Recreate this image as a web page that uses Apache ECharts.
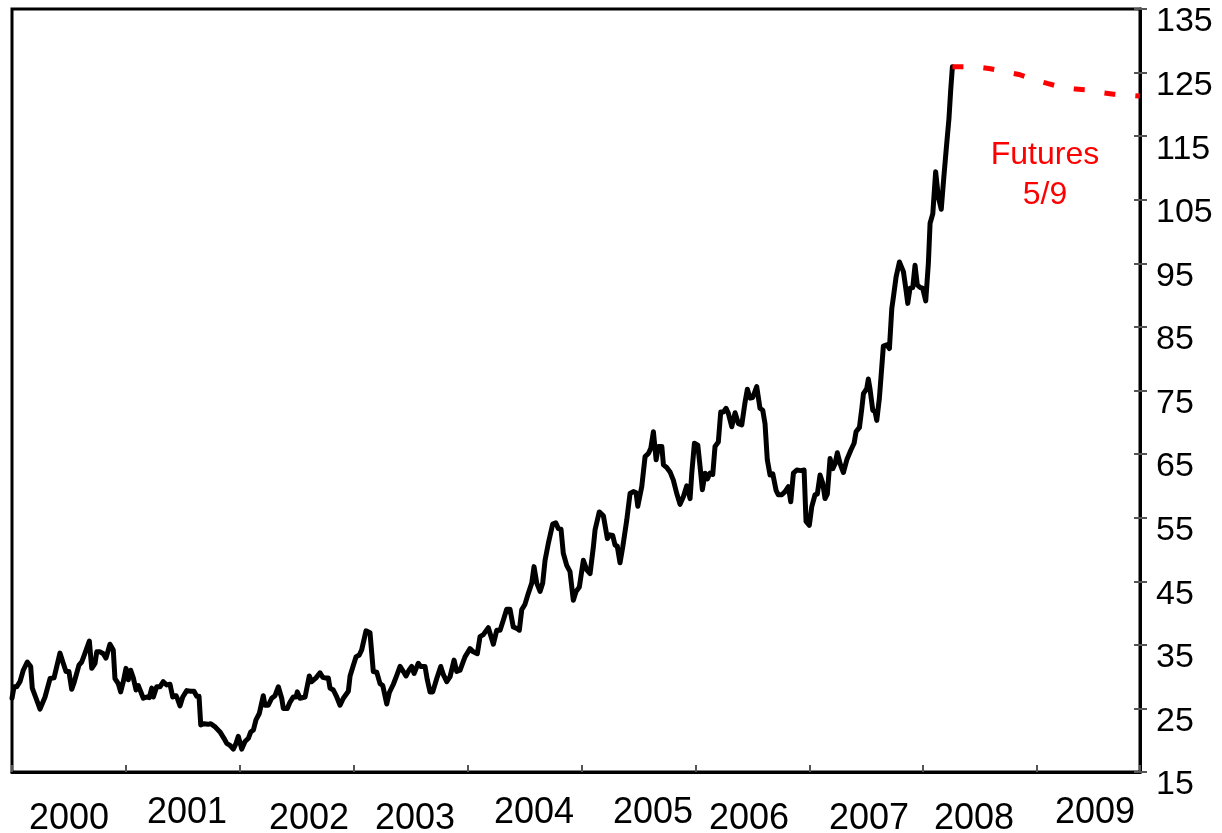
<!DOCTYPE html>
<html>
<head>
<meta charset="utf-8">
<title>Oil price and futures</title>
<script src="https://cdn.jsdelivr.net/npm/echarts@6/dist/echarts.min.js"></script>
<style>
  html, body { margin: 0; padding: 0; background: #fff; }
  #chart { width: 1222px; height: 833px; }
</style>
</head>
<body>
<div id="chart"></div>
<script>
// weekly spot price, time in years since start of 2000
const spotTime = [
  0.000, 0.018, 0.041, 0.070, 0.099, 0.134, 0.164, 0.178, 0.211, 0.246, 0.290, 0.334, 0.369, 0.421, 0.450, 0.474, 0.500, 0.524,
  0.544, 0.588, 0.612, 0.641, 0.679, 0.700, 0.729, 0.744, 0.773, 0.802, 0.825, 0.860, 0.889, 0.904, 0.933, 0.954, 0.977,
  1.001, 1.021, 1.042, 1.065, 1.089, 1.109, 1.124, 1.153, 1.183, 1.205, 1.227, 1.241, 1.270, 1.299, 1.328, 1.358, 1.387, 1.411,
  1.440, 1.451, 1.475, 1.499, 1.534, 1.569, 1.598, 1.622, 1.642, 1.657, 1.686, 1.723, 1.745, 1.782, 1.826, 1.861, 1.885, 1.914,
  1.943, 1.967, 1.987,
  2.017, 2.046, 2.075, 2.096, 2.119, 2.142, 2.171, 2.206, 2.221, 2.250, 2.280, 2.309, 2.338, 2.368, 2.382, 2.417, 2.441, 2.470,
  2.494, 2.505, 2.529, 2.573, 2.610, 2.631, 2.669, 2.704, 2.728, 2.748, 2.777, 2.792, 2.821, 2.851, 2.880, 2.909, 2.953, 2.968, 2.997,
  3.020, 3.049, 3.070, 3.108, 3.143, 3.158, 3.172, 3.202, 3.231, 3.255, 3.266, 3.290, 3.313, 3.348, 3.378, 3.407, 3.436, 3.459,
  3.488, 3.509, 3.530, 3.553, 3.567, 3.588, 3.626, 3.646, 3.670, 3.694, 3.729, 3.764, 3.787, 3.817, 3.846, 3.881, 3.904, 3.933, 3.977,
  4.021, 4.050, 4.085, 4.109, 4.138, 4.182, 4.226, 4.256, 4.285, 4.314, 4.343, 4.372, 4.401, 4.431, 4.454, 4.475, 4.504, 4.533,
  4.563, 4.583, 4.607, 4.636, 4.659, 4.680, 4.709, 4.747, 4.774, 4.796, 4.820, 4.840, 4.870, 4.899, 4.928, 4.952, 4.981,
  5.016, 5.046, 5.075, 5.104, 5.119, 5.156, 5.192, 5.206, 5.227, 5.250, 5.274, 5.294, 5.314, 5.338, 5.362, 5.397, 5.426, 5.455,
  5.479, 5.494, 5.529, 5.558, 5.587, 5.608, 5.631, 5.655, 5.675, 5.705, 5.719, 5.748, 5.777, 5.806, 5.836, 5.865, 5.894, 5.924,
  5.953, 5.968,
  5.991, 6.021, 6.041, 6.061, 6.085, 6.105, 6.128, 6.152, 6.172, 6.201, 6.222, 6.245, 6.269, 6.289, 6.319, 6.348, 6.377, 6.407,
  6.436, 6.456, 6.480, 6.503, 6.538, 6.567, 6.591, 6.611, 6.631, 6.655, 6.679, 6.708, 6.728, 6.758, 6.787, 6.816, 6.837, 6.860,
  6.890, 6.925, 6.954, 6.971,
  7.000, 7.021, 7.050, 7.070, 7.094, 7.118, 7.138, 7.158, 7.182, 7.206, 7.226, 7.246, 7.270, 7.299, 7.329, 7.364, 7.393, 7.410,
  7.440, 7.461, 7.475, 7.504, 7.518, 7.533, 7.557, 7.577, 7.592, 7.615, 7.636, 7.650, 7.680, 7.703, 7.724, 7.738, 7.762, 7.791,
  7.826, 7.849, 7.864, 7.884, 7.908, 7.928, 7.948, 7.972, 7.995,
  8.022, 8.045, 8.060, 8.084, 8.109, 8.132, 8.158, 8.181, 8.205, 8.226, 8.241, 8.256
]

const spotPrice = [
  26.6, 28.4, 28.4, 29.2, 31.0, 32.3, 31.6, 28.2, 26.6, 24.9, 26.8, 29.7, 29.8, 33.7, 32.1, 30.8, 30.8, 28.0,
  29.0, 31.8, 32.3, 33.7, 35.6, 31.3, 32.1, 33.9, 33.9, 33.6, 32.9, 35.1, 34.2, 29.7, 28.9, 27.6, 29.2,
  31.3, 29.5, 31.0, 29.8, 27.9, 28.6, 27.9, 26.6, 26.8, 26.7, 28.2, 26.8, 28.4, 28.4, 29.2, 28.7, 28.8, 26.8,
  27.0, 26.6, 25.4, 26.8, 27.8, 27.7, 27.7, 26.9, 26.9, 22.4, 22.6, 22.5, 22.6, 22.1, 21.3, 20.3, 19.5, 19.2,
  18.6, 19.5, 20.6,
  18.6, 19.8, 20.3, 21.3, 21.6, 23.2, 24.2, 27.0, 25.5, 25.5, 26.6, 27.0, 28.4, 26.6, 25.0, 25.0, 26.0, 26.8,
  26.8, 27.6, 26.6, 26.8, 30.1, 29.2, 29.8, 30.6, 29.9, 29.8, 29.8, 28.2, 27.9, 26.8, 25.5, 26.6, 27.7, 30.1, 31.8,
  33.1, 33.4, 34.2, 37.2, 36.9, 36.8, 30.8, 30.7, 28.9, 28.6, 28.7, 25.7, 27.5, 28.8, 30.2, 31.6, 30.8, 30.1,
  31.1, 31.6, 30.5, 31.5, 32.1, 31.6, 31.6, 29.5, 27.6, 27.6, 29.7, 31.6, 30.3, 29.2, 30.0, 32.6, 30.8, 31.0, 33.1,
  34.4, 33.9, 33.6, 36.3, 36.6, 37.7, 35.1, 37.3, 37.3, 38.9, 40.6, 40.6, 37.8, 37.6, 37.3, 40.5, 41.4, 43.1,
  44.7, 47.3, 44.7, 43.4, 44.7, 48.3, 51.0, 54.0, 54.2, 53.3, 53.2, 49.4, 47.5, 46.5, 42.0, 43.4, 44.1,
  48.3, 46.8, 46.2, 50.4, 53.1, 55.9, 55.3, 55.2, 51.7, 52.3, 52.2, 50.7, 50.5, 47.9, 50.4, 54.6, 58.8, 59.1,
  58.9, 56.8, 59.9, 64.6, 65.1, 65.9, 68.5, 64.1, 66.2, 66.2, 63.3, 62.9, 62.2, 60.9, 58.8, 57.1, 58.3, 60.0,
  58.0, 62.0,
  66.7, 66.4, 63.0, 59.4, 62.0, 61.1, 62.0, 61.8, 66.2, 66.9, 71.6, 71.6, 72.2, 71.4, 69.3, 71.5, 69.8, 69.6,
  73.2, 75.2, 73.8, 73.9, 75.6, 72.2, 71.9, 69.8, 64.1, 61.7, 61.9, 59.3, 58.6, 58.6, 59.1, 59.9, 57.5, 62.0,
  62.5, 62.4, 62.5, 54.4,
  53.8, 56.7, 58.6, 58.7, 61.7, 60.4, 58.0, 58.7, 64.3, 62.7, 63.5, 65.2, 63.5, 62.1, 64.1, 65.6, 66.7, 68.5,
  69.2, 72.2, 74.5, 75.3, 76.8, 75.2, 71.9, 71.7, 70.3, 73.8, 78.7, 82.0, 82.2, 81.6, 87.9, 89.7, 92.9, 95.2,
  93.7, 90.8, 88.7, 91.1, 91.2, 94.7, 91.6, 91.2, 91.1,
  89.1, 95.0, 101.3, 102.8, 109.4, 105.5, 103.5, 108.6, 113.6, 117.8, 122.2, 125.9
]

// futures curve as of 5/9, monthly contracts
const futuresTime = [
  8.256, 8.339, 8.423, 8.506, 8.589, 8.673, 8.756, 8.839, 8.923, 9.006, 9.089,
  9.173, 9.256, 9.339, 9.423, 9.506, 9.589, 9.673, 9.756, 9.839, 9.903
]
const futuresPrice = [
  125.9, 125.9, 125.9, 125.8, 125.6, 125.3, 125.0, 124.7, 124.2, 123.7, 123.3,
  122.9, 122.6, 122.4, 122.3, 122.0, 121.8, 121.6, 121.5, 121.4, 121.3
]

const yearLabels = ['2000', '2001', '2002', '2003', '2004', '2005', '2006', '2007', '2008', '2009']
const startYear = 2000
const endYear = 2009.903

const FONT = "'Liberation Sans', Arial, sans-serif"

const chart = echarts.init(document.getElementById('chart'))

// year labels sit below the axis, a few of them slightly raised (as in the source)
const labelX = [69, 187, 309, 415, 534, 653, 749, 869, 974, 1095]
const labelRaised = [false, true, false, false, true, true, false, false, false, true]

const yearTexts = yearLabels.map((y, i) => ({
  type: 'text',
  x: labelX[i],
  y: labelRaised[i] ? 813 : 819,
  style: {
    text: y,
    font: '36px ' + FONT,
    fill: '#000',
    align: 'center',
    verticalAlign: 'middle'
  }
}))

const option = {
  animation: false,
  backgroundColor: '#fff',
  grid: {
    left: 12,
    right: 82,
    top: 9,
    bottom: 61,
    show: true,
    borderColor: '#000',
    borderWidth: 3
  },
  xAxis: {
    type: 'value',
    min: startYear,
    max: endYear,
    interval: 1,
    axisLine: { show: true, lineStyle: { color: '#000', width: 3 } },
    axisTick: { show: true, inside: true, length: 7, lineStyle: { color: '#555', width: 2 } },
    axisLabel: { show: false },
    splitLine: { show: false }
  },
  yAxis: [
    {
      type: 'value',
      position: 'right',
      min: 15,
      max: 135,
      interval: 10,
      axisLine: { show: true, lineStyle: { color: '#000', width: 3 } },
      axisTick: { show: true, length: 7, lineStyle: { color: '#555', width: 2 } },
      axisLabel: {
        fontSize: 34,
        fontFamily: FONT,
        color: '#000',
        margin: 16,
        verticalAlign: 'top',
        lineHeight: 26
      },
      splitLine: { show: false }
    },
    {
      // inner half of the crossing ticks
      type: 'value',
      position: 'right',
      min: 15,
      max: 135,
      interval: 10,
      axisLine: { show: false },
      axisTick: { show: true, inside: true, length: 6, lineStyle: { color: '#555', width: 2 } },
      axisLabel: { show: false },
      splitLine: { show: false }
    }
  ],
  series: [
    {
      name: 'Spot',
      type: 'line',
      yAxisIndex: 0,
      showSymbol: false,
      symbol: 'none',
      data: spotTime.map((t, i) => [startYear + t, spotPrice[i]]),
      lineStyle: { color: '#000', width: 5, join: 'round', cap: 'round' },
      z: 3
    },
    {
      name: 'Futures 5/9',
      type: 'line',
      yAxisIndex: 0,
      showSymbol: false,
      symbol: 'none',
      data: futuresTime.map((t, i) => [startYear + t, futuresPrice[i]]),
      lineStyle: { color: '#ff0000', width: 5, type: [11, 20], cap: 'butt' },
      z: 4
    }
  ],
  graphic: [
    ...yearTexts,
    {
      type: 'text',
      x: 1045,
      y: 175,
      style: {
        text: 'Futures\n5/9',
        font: '32px ' + FONT,
        fill: '#ff0000',
        align: 'center',
        verticalAlign: 'middle',
        lineHeight: 40
      }
    }
  ]
}

chart.setOption(option)
</script>
</body>
</html>
